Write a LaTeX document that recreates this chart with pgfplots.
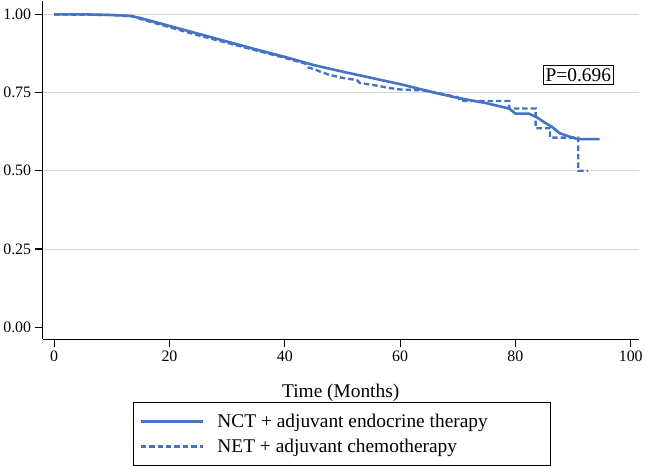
\documentclass[border=0pt]{standalone}
\usepackage{pgfplots}
\pgfplotsset{compat=1.18}
\usepackage{fontspec}
\setmainfont{Liberation Serif}

\definecolor{kmblue}{RGB}{68,114,196}
\definecolor{gridgray}{RGB}{214,214,214}

\pgfplotstableread{
t s
0 1.000
5 1.000
10 0.998
13.3 0.995
15 0.988
20 0.963
25 0.938
30 0.913
35 0.888
40 0.864
45 0.838
50 0.817
55 0.797
60 0.777
66.6 0.747
70 0.733
75 0.716
78.9 0.699
80 0.683
82.3 0.683
83.7 0.671
85.1 0.654
86.3 0.641
87.7 0.620
89.4 0.609
90.9 0.601
94.6 0.601
}\nct

\pgfplotstableread{
t s
0 1.000
10 0.998
13.5 0.994
15 0.985
20 0.959
25 0.933
30 0.909
35 0.885
40 0.861
43.5 0.843
44.2 0.829
45 0.826
46 0.818
47.5 0.808
50 0.797
52.5 0.790
53 0.781
56 0.772
58 0.765
60 0.760
64 0.757
66.6 0.748
70 0.735
70.5 0.723
78.9 0.723
78.9 0.699
83.5 0.699
83.5 0.636
86 0.636
86 0.606
90.9 0.606
90.9 0.500
92.6 0.500
}\net

\begin{document}
\begin{tikzpicture}
\begin{axis}[
	scale only axis,
	width=600pt, height=341pt,
	xmin=-2, xmax=101.4,
	ymin=-0.039, ymax=1.044,
	axis x line*=bottom,
	axis y line*=left,
	axis line style={line width=1.2pt, -},
	xtick={0,20,...,100},
	ytick={0,0.25,...,1},
	yticklabel style={/pgf/number format/.cd, fixed, fixed zerofill, precision=2},
	/pgf/number format/assume math mode=true,
	tick align=outside,
	major tick length=8pt,
	tick style={line width=1.2pt, black},
	ticklabel style={font=\fontsize{16}{18}\selectfont},
	extra y ticks={0.25,0.5,0.75,1},
	extra y tick labels={},
	extra y tick style={ymajorgrids=true},
	major grid style={gridgray, line width=1pt},
	xlabel={Time (Months)},
	xlabel style={font=\fontsize{19.5}{22}\selectfont, at={(axis description cs:0.5,-0.172)}, anchor=base},
	legend style={
		at={(axis description cs:0.502,-0.184)}, anchor=north,
		draw=black, line width=1.2pt,
		font=\fontsize{19.5}{22}\selectfont,
		inner xsep=6.3pt, inner ysep=9.5pt,
		row sep=6.5pt,
		/tikz/every odd column/.append style={column sep=11pt},
	},
	legend cell align=left,
	legend image code/.code={\draw[#1] (0pt,0pt) -- (63pt,0pt);},
]
\addplot[kmblue, line width=2.6pt] table[x=t, y=s] {\nct};
\addlegendentry{\makebox[327pt][l]{NCT + adjuvant endocrine therapy}}
\addplot[kmblue, line width=2.4pt, dash pattern=on 5.5pt off 3pt] table[x=t, y=s] {\net};
\addlegendentry{\makebox[327pt][l]{NET + adjuvant chemotherapy}}
\node[draw=black, line width=1pt, fill=white, inner xsep=2.5pt, inner ysep=3pt,
	font=\fontsize{19.5}{22}\selectfont] at (axis cs:90.9,0.807) {P=0.696};
\end{axis}
\end{tikzpicture}
\end{document}
